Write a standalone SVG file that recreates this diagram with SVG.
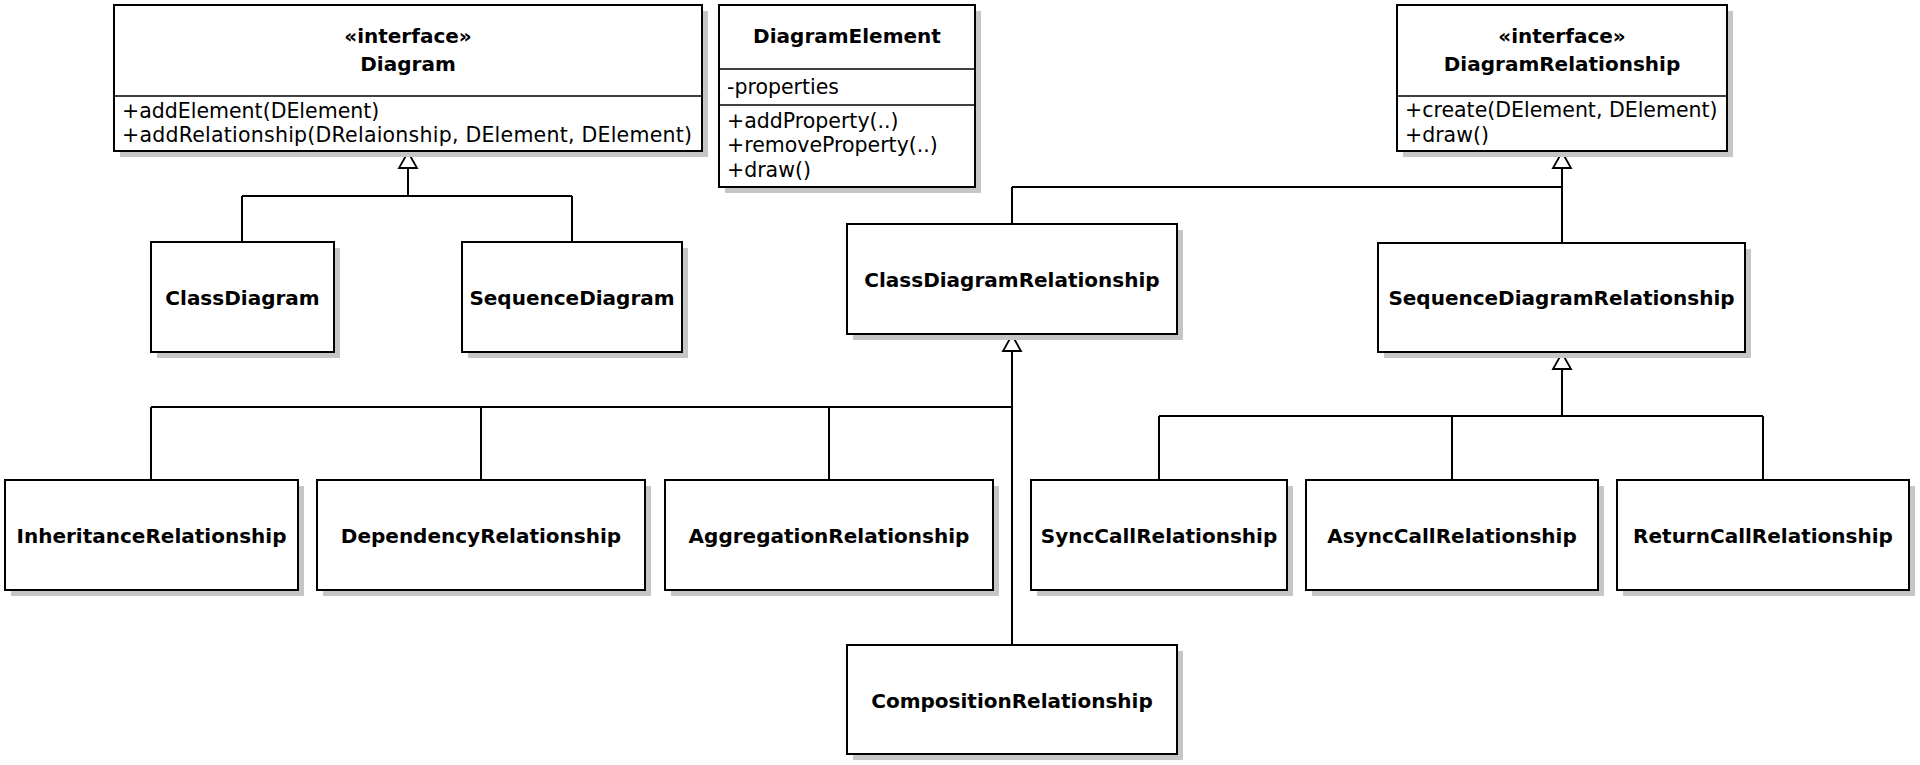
<svg xmlns="http://www.w3.org/2000/svg" width="1920" height="765" viewBox="0 0 1920 765">
<style>
.shadow{fill:#c6c6c6;stroke:none}
.box{fill:#ffffff;stroke:#000000;stroke-width:2}
.div{stroke:#000000;stroke-width:1.6;fill:none}
.title{font-family:"DejaVu Sans","Liberation Sans",sans-serif;font-size:20px;font-weight:bold;fill:#000000;text-anchor:middle}
.member{font-family:"DejaVu Sans","Liberation Sans",sans-serif;font-size:20.5px;fill:#000000}
.conn{stroke:#000000;stroke-width:2;fill:none}
.tri{fill:#ffffff;stroke:#000000;stroke-width:1.8;stroke-linejoin:miter}
</style>
<rect width="1920" height="765" fill="#ffffff"/>

<g id="connectors">
  <!-- Diagram realizations -->
  <path class="conn" d="M408,168 V196 M242,196 H572 M242,196 V242 M572,196 V242"/>
  <path class="tri" d="M408,152 L417,168 L399,168 Z"/>
  <!-- DiagramRelationship realizations -->
  <path class="conn" d="M1562,168 V243 M1012,187 H1562 M1012,187 V224"/>
  <path class="tri" d="M1562,152 L1571,168 L1553,168 Z"/>
  <!-- ClassDiagramRelationship generalizations -->
  <path class="conn" d="M1012,351 V645 M151,407 H1012 M151,407 V480 M481,407 V480 M829,407 V480"/>
  <path class="tri" d="M1012,335 L1021,351 L1003,351 Z"/>
  <!-- SequenceDiagramRelationship generalizations -->
  <path class="conn" d="M1562,369 V416 M1159,416 H1763 M1159,416 V480 M1452,416 V480 M1763,416 V480"/>
  <path class="tri" d="M1562,353 L1571,369 L1553,369 Z"/>
</g>

<g id="Diagram">
  <rect class="shadow" x="120" y="11" width="588" height="146"/>
  <rect class="box" x="114" y="5" width="588" height="146"/>
  <line class="div" x1="114" y1="96" x2="702" y2="96"/>
  <text class="title" x="408" y="43">«interface»</text>
  <text class="title" x="408" y="71">Diagram</text>
  <text class="member" x="122" y="118">+addElement(DElement)</text>
  <text class="member" x="122" y="142" textLength="570" lengthAdjust="spacing">+addRelationship(DRelaionship, DElement, DElement)</text>
</g>

<g id="DiagramElement">
  <rect class="shadow" x="725" y="11" width="256" height="182"/>
  <rect class="box" x="719" y="5" width="256" height="182"/>
  <line class="div" x1="719" y1="69" x2="975" y2="69"/>
  <line class="div" x1="719" y1="105" x2="975" y2="105"/>
  <text class="title" x="847" y="43">DiagramElement</text>
  <text class="member" x="727" y="94">-properties</text>
  <text class="member" x="727" y="128">+addProperty(..)</text>
  <text class="member" x="727" y="152">+removeProperty(..)</text>
  <text class="member" x="727" y="177">+draw()</text>
</g>

<g id="DiagramRelationship">
  <rect class="shadow" x="1403" y="11" width="330" height="146"/>
  <rect class="box" x="1397" y="5" width="330" height="146"/>
  <line class="div" x1="1397" y1="96" x2="1727" y2="96"/>
  <text class="title" x="1562" y="43">«interface»</text>
  <text class="title" x="1562" y="71">DiagramRelationship</text>
  <text class="member" x="1405" y="117">+create(DElement, DElement)</text>
  <text class="member" x="1405" y="142">+draw()</text>
</g>

<g id="ClassDiagram">
  <rect class="shadow" x="157" y="248" width="183" height="110"/>
  <rect class="box" x="151" y="242" width="183" height="110"/>
  <text class="title" x="242.5" y="305">ClassDiagram</text>
</g>

<g id="SequenceDiagram">
  <rect class="shadow" x="468" y="248" width="220" height="110"/>
  <rect class="box" x="462" y="242" width="220" height="110"/>
  <text class="title" x="572" y="305">SequenceDiagram</text>
</g>

<g id="ClassDiagramRelationship">
  <rect class="shadow" x="853" y="230" width="330" height="110"/>
  <rect class="box" x="847" y="224" width="330" height="110"/>
  <text class="title" x="1012" y="287">ClassDiagramRelationship</text>
</g>

<g id="SequenceDiagramRelationship">
  <rect class="shadow" x="1384" y="249" width="367" height="109"/>
  <rect class="box" x="1378" y="243" width="367" height="109"/>
  <text class="title" x="1561.5" y="305">SequenceDiagramRelationship</text>
</g>

<g id="InheritanceRelationship">
  <rect class="shadow" x="11" y="486" width="293" height="110"/>
  <rect class="box" x="5" y="480" width="293" height="110"/>
  <text class="title" x="151.5" y="543">InheritanceRelationship</text>
</g>

<g id="DependencyRelationship">
  <rect class="shadow" x="323" y="486" width="328" height="110"/>
  <rect class="box" x="317" y="480" width="328" height="110"/>
  <text class="title" x="481" y="543">DependencyRelationship</text>
</g>

<g id="AggregationRelationship">
  <rect class="shadow" x="671" y="486" width="328" height="110"/>
  <rect class="box" x="665" y="480" width="328" height="110"/>
  <text class="title" x="829" y="543">AggregationRelationship</text>
</g>

<g id="SyncCallRelationship">
  <rect class="shadow" x="1037" y="486" width="256" height="110"/>
  <rect class="box" x="1031" y="480" width="256" height="110"/>
  <text class="title" x="1159" y="543">SyncCallRelationship</text>
</g>

<g id="AsyncCallRelationship">
  <rect class="shadow" x="1312" y="486" width="292" height="110"/>
  <rect class="box" x="1306" y="480" width="292" height="110"/>
  <text class="title" x="1452" y="543">AsyncCallRelationship</text>
</g>

<g id="ReturnCallRelationship">
  <rect class="shadow" x="1623" y="486" width="292" height="110"/>
  <rect class="box" x="1617" y="480" width="292" height="110"/>
  <text class="title" x="1763" y="543">ReturnCallRelationship</text>
</g>

<g id="CompositionRelationship">
  <rect class="shadow" x="853" y="651" width="330" height="109"/>
  <rect class="box" x="847" y="645" width="330" height="109"/>
  <text class="title" x="1012" y="708">CompositionRelationship</text>
</g>
</svg>
